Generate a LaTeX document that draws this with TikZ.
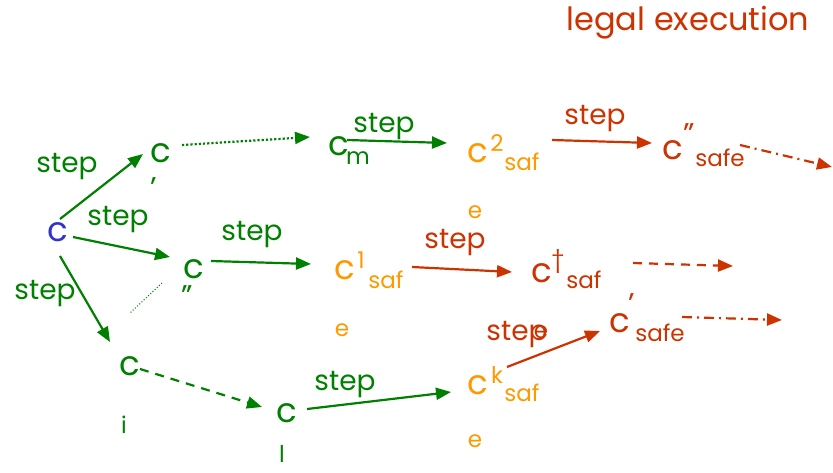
\documentclass[tikz,border=0pt]{standalone}
\usepackage{fontspec}
\setmainfont{Poppins}
\usetikzlibrary{arrows.meta,calc}
\definecolor{dgreen}{RGB}{0,128,0}
\definecolor{cblue}{RGB}{51,51,204}
\definecolor{corange}{RGB}{255,153,0}
\definecolor{cred}{RGB}{204,51,0}
\begin{document}
\begin{tikzpicture}[x=1pt,y=-1pt,
  every node/.style={inner sep=0pt,outer sep=0pt},
  bigc/.style={font=\fontsize{34}{34}\selectfont},
  smalltxt/.style={font=\fontsize{23}{23}\selectfont},
  primetxt/.style={font=\fontsize{30}{30}\selectfont},
  lbl/.style={font=\fontsize{28}{28}\selectfont},
  G/.style={text=dgreen},
  B/.style={text=cblue},
  O/.style={text=corange},
  R/.style={text=cred},
  tip/.style={-{Triangle[length=15pt,width=12pt]}},
  garr/.style={draw=dgreen,line width=2.2pt,tip},
  rarr/.style={draw=cred,line width=2.2pt,tip},
]
\useasboundingbox (0,0) rectangle (833,472);

% title
\node[R,font=\fontsize{32}{32}\selectfont] (title) at (688,23) {legal execution};

% green states
\node[bigc,B] (c0) at (58,232) {c};
\node[bigc,G] (cA) at (161,153) {c};
\node[primetxt,G] (cAp) at (154,188) {'};
\node[bigc,G] (cB) at (194,269) {c};
\node[primetxt,G] (cBp) at (187,296) {''};
\node[bigc,G] (cI) at (130,366) {c};
\node[smalltxt,G] (cIs) at (124,425) {i};
\node[bigc,G] (cL) at (287,413) {c};
\node[smalltxt,G] (cLs) at (282,454) {l};
\node[bigc,G] (cM) at (339,146) {c};
\node[smalltxt,G] (cMs) at (358,158) {m};

% orange states
\node[bigc,O] (c2) at (478,153) {c};
\node[smalltxt,O] (c2s) at (497,143) {2};
\node[smalltxt,O] (c2b) at (522,162) {saf};
\node[smalltxt,O] (c2e) at (475,212) {e};
\node[bigc,O] (c1) at (345,270) {c};
\node[smalltxt,O] (c1s) at (361,260) {1};
\node[smalltxt,O] (c1b) at (386,280) {saf};
\node[smalltxt,O] (c1e) at (342,330) {e};
\node[bigc,O] (cK) at (478,385) {c};
\node[smalltxt,O] (cKs) at (497,375) {k};
\node[smalltxt,O] (cKb) at (522,393) {saf};
\node[smalltxt,O] (cKe) at (475,441) {e};

% red states
\node[bigc,R] (cT) at (542,273) {c};
\node[smalltxt,R] (cTs) at (558,262) {\textdagger};
\node[smalltxt,R] (cTb) at (584,280) {saf};
\node[smalltxt,R] (cTe) at (541,332) {e};
\node[bigc,R] (cD) at (673,150) {c};
\node[primetxt,R] (cDs) at (689,134) {''};
\node[smalltxt,R] (cDb) at (720,158) {safe};
\node[bigc,R] (cP) at (620,323) {c};
\node[primetxt,R] (cPs) at (632,304) {'};
\node[smalltxt,R] (cPb) at (660,333) {safe};

% free ends
\coordinate (eT) at (733,266);
\coordinate (eD) at (832,167);
\coordinate (eP) at (782,320);

% green arrows
\draw[garr] ([shift={(2,-13)}]c0.center) -- ([shift={(-18,1)}]cA.center);
\draw[garr] ([shift={(15,5)}]c0.center) -- ([shift={(-24,-12)}]cB.center);
\draw[garr] ([shift={(2,24)}]c0.center) -- ([shift={(-20,-24)}]cI.center);
\draw[garr,dotted] ([shift={(21,-8)}]cA.center) -- ([shift={(-29,-9)}]cM.center);
\draw[garr] ([shift={(17,-8)}]cB.center) -- ([shift={(-34,-6)}]c1.center);
\draw[draw=dgreen,line width=1pt,dotted] ([shift={(-32,14)}]cB.center) -- ([shift={(0,-53)}]cI.center);
\draw[garr,dash pattern=on 9pt off 7pt] ([shift={(10,3)}]cI.center) -- ([shift={(-25,-6)}]cL.center);
\draw[garr] ([shift={(20,-4)}]cL.center) -- ([shift={(-27,7)}]cK.center);
\draw[garr] ([shift={(8,-6)}]cM.center) -- ([shift={(-31,-10)}]c2.center);

% red arrows
\draw[rarr] ([shift={(74,-13)}]c2.center) -- ([shift={(-21,-7)}]cD.center);
\draw[rarr] ([shift={(67,-3)}]c1.center) -- ([shift={(-30,-1)}]cT.center);
\draw[rarr] ([shift={(29,-18)}]cK.center) -- ([shift={(-20,8)}]cP.center);
\draw[rarr,dash pattern=on 9pt off 7pt] ([shift={(91,-10)}]cT.center) -- (eT);
\draw[rarr,dash pattern=on 10pt off 5pt on 2pt off 5pt] ([shift={(67,-5)}]cD.center) -- (eD);
\draw[rarr,dash pattern=on 10pt off 5pt on 2pt off 5pt] ([shift={(62,-6)}]cP.center) -- (eP);

% step labels
\node[lbl,G] (s1) at (67,167) {step};
\node[lbl,G] (s2) at (118,220) {step};
\node[lbl,G] (s3) at (45,294) {step};
\node[lbl,G] (s4) at (252,235) {step};
\node[lbl,G] (s5) at (384,127) {step};
\node[lbl,G] (s6) at (345,385) {step};
\node[lbl,R] (s7) at (595,119) {step};
\node[lbl,R] (s8) at (455,243) {step};
\node[lbl,R] (s9) at (517,335) {step};
\end{tikzpicture}
\end{document}
